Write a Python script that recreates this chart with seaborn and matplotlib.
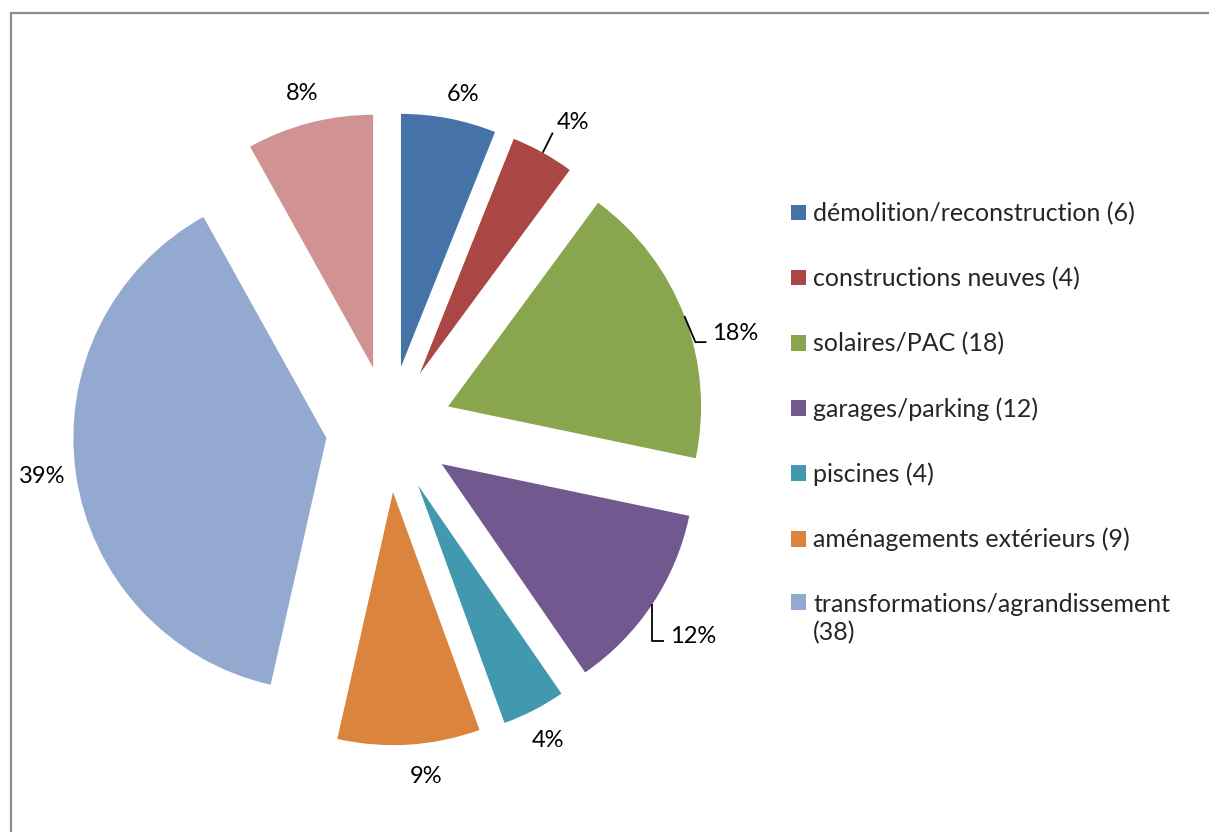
import numpy as np
import matplotlib
matplotlib.use("Agg")
import matplotlib.pyplot as plt
import seaborn as sns
from matplotlib.patches import Rectangle
from matplotlib.legend_handler import HandlerPatch

# ---- data ----
categories = ["démolition/reconstruction (6)", "constructions neuves (4)", "solaires/PAC (18)",
              "garages/parking (12)", "piscines (4)", "aménagements extérieurs (9)",
              "transformations/agrandissement\n(38)", "autres"]
values = [6, 4, 18, 12, 4, 9, 38, 8]
pct_labels = ["6%", "4%", "18%", "12%", "4%", "9%", "39%", "8%"]
colors = ["#4572A7", "#AA4643", "#89A54E", "#71588F", "#4198AF", "#DB843D", "#93A9CF", "#D19392"]
legend_count = 7

sns.set_theme(style="white")
plt.rcParams['font.family'] = ['Lato', 'DejaVu Sans']

W, H = 1209, 832
fig = plt.figure(figsize=(W / 100, H / 100), dpi=100)
ax = fig.add_axes([0, 0, 1, 1])

R_PX = 253.0
CX, CY = 389.0, 429.0
palette = sns.color_palette(colors)

wedges, _ = ax.pie(values, colors=palette, startangle=90, counterclock=False,
                   explode=[0.25] * len(values), radius=1.0,
                   wedgeprops=dict(linewidth=0))
ax.set_xlim(-CX / R_PX, (W - CX) / R_PX)
ax.set_ylim(-(H - CY) / R_PX, CY / R_PX)
ax.set_aspect('auto')
ax.axis('off')

px = 1.0 / R_PX
fs_lab = 17
fs_leg = 18
leader = {1: [(10, 20)], 2: [(11, -26), (11, 0)], 3: [(0, -37), (12, 0)]}
text_nudge = {1: (4, 10), 2: (6, 9), 3: (6, 5)}
center_nudge = {0: (8, -6), 5: (15, -2), 4: (0, -3), 6: (-4, 2)}

for i, w in enumerate(wedges):
    th = np.deg2rad((w.theta1 + w.theta2) / 2)
    cx, cy = w.center
    d = np.array([np.cos(th), np.sin(th)])
    if i in leader:
        p = np.array([cx, cy]) + w.r * d
        pts = [p.copy()]
        for dx, dy in leader[i]:
            p = p + np.array([dx, dy]) * px
            pts.append(p.copy())
        pts = np.array(pts)
        ax.plot(pts[:, 0], pts[:, 1], color="black", lw=1.3, solid_capstyle='butt')
        nx, ny = text_nudge[i]
        ax.text(p[0] + nx * px, p[1] + ny * px, pct_labels[i], ha='left', va='center',
                fontsize=fs_lab, color="black")
    else:
        nx, ny = center_nudge.get(i, (0, 0))
        pos = np.array([cx, cy]) + 1.12 * w.r * d + np.array([nx, ny]) * px
        ax.text(pos[0], pos[1], pct_labels[i], ha='center', va='center',
                fontsize=fs_lab, color="black")


def square(shift):
    def f(legend, orig_handle, xdescent, ydescent, width, height, fontsize):
        return Rectangle((-xdescent, -ydescent + shift), width, height)
    return f


handler_map = {wedges[6]: HandlerPatch(patch_func=square(12.5))}
leg = fig.legend(wedges[:legend_count], categories[:legend_count],
                 loc='upper left', bbox_to_anchor=(791 / W, 1 - 202 / H),
                 frameon=False, fontsize=fs_leg, handlelength=0.6, handleheight=0.6,
                 handletextpad=0.28, labelspacing=1.67, borderpad=0, borderaxespad=0,
                 handler_map=handler_map)
leg.get_texts()[6].set_linespacing(1.27)

# chart border
fig.patches.append(Rectangle((11 / W, -0.02), 1.05, 1 - 12.5 / H + 0.02,
                             transform=fig.transFigure, fill=False,
                             edgecolor="#8c8c8c", linewidth=1.6, zorder=10))

fig.savefig("out.png", dpi=100)
